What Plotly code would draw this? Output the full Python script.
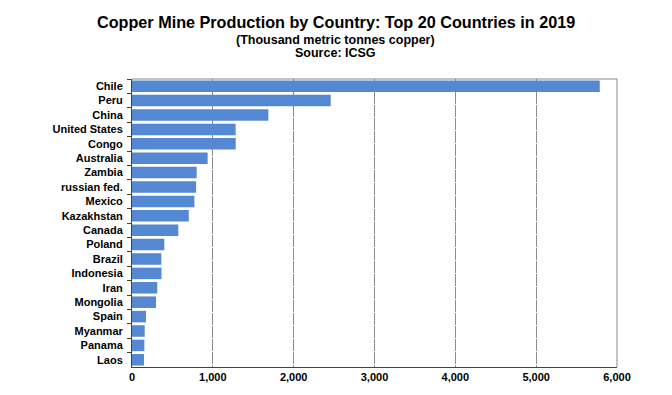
import plotly.graph_objects as go

countries = ["Chile", "Peru", "China", "United States", "Congo", "Australia", "Zambia",
             "russian fed.", "Mexico", "Kazakhstan", "Canada", "Poland", "Brazil",
             "Indonesia", "Iran", "Mongolia", "Spain", "Myanmar", "Panama", "Laos"]
production = [5787, 2458, 1687, 1282, 1283, 936, 800, 793, 772, 702, 573, 400, 363,
              365, 313, 297, 173, 157, 153, 148]
x_ticks = [0, 1000, 2000, 3000, 4000, 5000, 6000]
x_tick_labels = ["0", "1,000", "2,000", "3,000", "4,000", "5,000", "6,000"]

title_lines = ["Copper Mine Production by Country: Top 20 Countries in 2019",
               "(Thousand metric tonnes copper)", "Source: ICSG"]

FONT = "Liberation Sans"

fig = go.Figure(go.Bar(
    x=production, y=countries, orientation="h",
    marker=dict(color="#5588D3", line=dict(width=0)),
))

# page body has an 8px margin, so the figure is sized/offset to compensate
fig.update_layout(
    width=664, height=387,
    margin=dict(l=124, r=55, t=71, b=28),
    paper_bgcolor="white", plot_bgcolor="white",
    bargap=0.2,
    showlegend=False,
    font=dict(family=FONT, color="black"),
    xaxis=dict(
        range=[0, 6000], tickvals=x_ticks, ticktext=x_tick_labels,
        showgrid=True, gridcolor="#8c8c8c", griddash="12px,1px", gridwidth=1,
        showline=True, linecolor="#404040", linewidth=1,
        zeroline=False, ticks="", tickfont=dict(family=FONT, size=11, color="black", weight="bold"),
    ),
    yaxis=dict(
        autorange="reversed", type="category",
        showline=True, linecolor="#404040", linewidth=1,
        ticks="outside", tickson="boundaries", ticklen=4, tickcolor="#404040",
        showgrid=False,
        tickfont=dict(family=FONT, size=11, color="black", weight="bold"),
        ticklabelstandoff=6,
    ),
    shapes=[
        dict(type="line", xref="paper", yref="paper", x0=0, x1=1, y0=1, y1=1,
             line=dict(color="#888888", width=1)),
        dict(type="line", xref="paper", yref="paper", x0=1, x1=1, y0=0, y1=1,
             line=dict(color="#888888", width=1)),
    ],
    annotations=[
        dict(text=title_lines[0], xref="paper", yref="paper", x=0.42, y=1,
             xanchor="center", yanchor="middle", yshift=57, showarrow=False,
             font=dict(family=FONT, size=16.2, color="black", weight="bold")),
        dict(text=title_lines[1], xref="paper", yref="paper", x=0.42, y=1,
             xanchor="center", yanchor="middle", yshift=39, showarrow=False,
             font=dict(family=FONT, size=12.5, color="black", weight="bold")),
        dict(text=title_lines[2], xref="paper", yref="paper", x=0.42, y=1,
             xanchor="center", yanchor="middle", yshift=26, showarrow=False,
             font=dict(family=FONT, size=12.5, color="black", weight="bold")),
    ],
)

fig.write_html("out.html")
